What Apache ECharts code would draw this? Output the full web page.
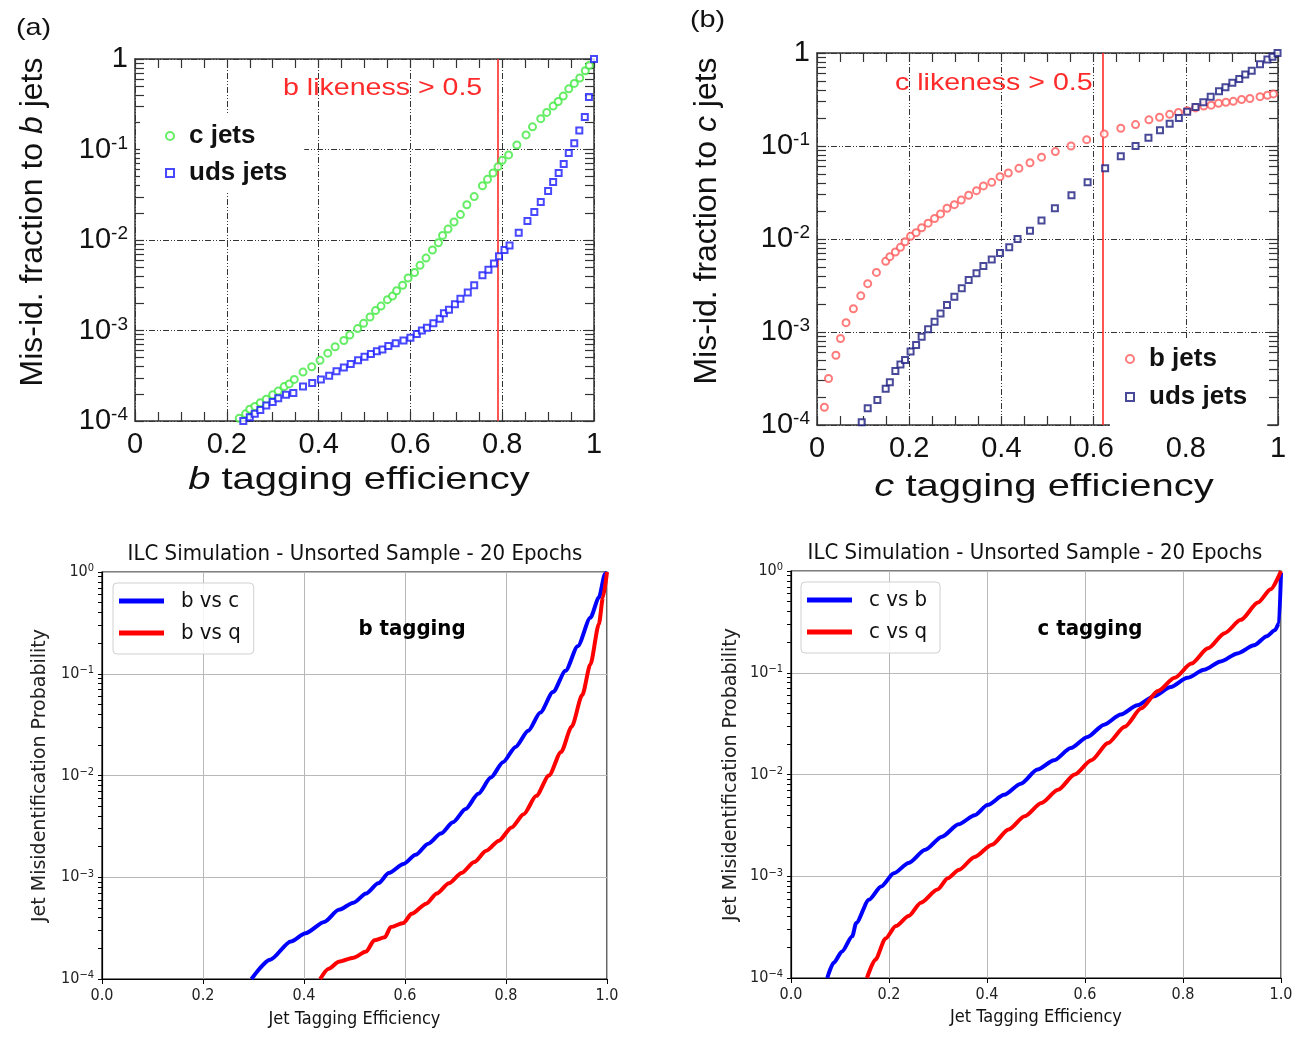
<!DOCTYPE html>
<html>
<head>
<meta charset="utf-8">
<script src="https://cdn.jsdelivr.net/npm/echarts@6/dist/echarts.min.js"></script>
<style>
  html, body { margin: 0; padding: 0; background: #fff; }
  #main { width: 1302px; height: 1050px; }
</style>
</head>
<body>
<div id="main"></div>
<script>
// ---------- data ----------
// (a) b tagging, mis-id of c jets / uds jets
var aEffC = [0.227,0.241,0.25,0.261,0.273,0.286,0.30,0.312,0.325,0.336,0.347,0.366,0.385,0.403,0.42,0.436,0.455,0.468,0.485,0.498,0.512,0.524,0.536,0.55,0.561,0.57,0.583,0.595,0.609,0.621,0.634,0.648,0.661,0.67,0.682,0.695,0.709,0.723,0.739,0.757,0.768,0.78,0.791,0.80,0.814,0.832,0.852,0.866,0.884,0.897,0.911,0.922,0.933,0.945,0.957,0.969,0.981,0.99];
var aMisC = [1.07e-4,1.20e-4,1.35e-4,1.45e-4,1.59e-4,1.74e-4,1.95e-4,2.14e-4,2.40e-4,2.57e-4,2.88e-4,3.47e-4,3.98e-4,4.68e-4,5.62e-4,6.61e-4,7.76e-4,8.91e-4,1.05e-3,1.20e-3,1.41e-3,1.66e-3,1.86e-3,2.19e-3,2.40e-3,2.75e-3,3.16e-3,3.80e-3,4.37e-3,5.25e-3,6.31e-3,7.76e-3,9.33e-3,1.12e-2,1.32e-2,1.58e-2,1.91e-2,2.45e-2,3.02e-2,3.98e-2,4.68e-2,5.50e-2,6.46e-2,7.59e-2,8.71e-2,0.112,0.145,0.178,0.219,0.257,0.302,0.339,0.389,0.468,0.537,0.617,0.741,0.851];
var aEffUds = [0.236,0.25,0.261,0.273,0.286,0.30,0.312,0.329,0.345,0.366,0.386,0.405,0.423,0.439,0.455,0.47,0.486,0.50,0.514,0.527,0.539,0.552,0.568,0.585,0.60,0.614,0.625,0.636,0.65,0.664,0.673,0.684,0.697,0.709,0.725,0.739,0.757,0.77,0.782,0.793,0.805,0.816,0.836,0.855,0.87,0.884,0.90,0.911,0.923,0.934,0.945,0.957,0.968,0.98,0.989,1.0];
var aMisUds = [1.00e-4,1.10e-4,1.20e-4,1.32e-4,1.48e-4,1.62e-4,1.78e-4,1.95e-4,2.04e-4,2.40e-4,2.63e-4,2.88e-4,3.16e-4,3.55e-4,3.89e-4,4.27e-4,4.68e-4,5.13e-4,5.50e-4,5.89e-4,6.17e-4,6.76e-4,7.24e-4,7.76e-4,8.32e-4,9.12e-4,1.00e-3,1.07e-3,1.20e-3,1.35e-3,1.55e-3,1.70e-3,1.95e-3,2.24e-3,2.63e-3,3.16e-3,4.07e-3,4.68e-3,5.50e-3,6.61e-3,7.76e-3,8.71e-3,1.20e-2,1.62e-2,2.04e-2,2.63e-2,3.47e-2,4.37e-2,5.50e-2,6.92e-2,9.12e-2,0.117,0.162,0.229,0.380,1.0];
var bCut = 0.793;

// (b) c tagging, mis-id of b jets / uds jets
var bEffB = [0.016,0.025,0.041,0.051,0.063,0.079,0.095,0.11,0.129,0.149,0.158,0.17,0.181,0.191,0.203,0.215,0.227,0.241,0.255,0.268,0.282,0.298,0.313,0.329,0.346,0.361,0.379,0.397,0.415,0.438,0.462,0.487,0.517,0.551,0.585,0.623,0.659,0.691,0.72,0.743,0.765,0.784,0.803,0.821,0.839,0.855,0.871,0.887,0.903,0.921,0.939,0.961,0.977,0.99];
var bMisB = [1.55e-4,3.16e-4,5.62e-4,8.51e-4,1.26e-3,1.78e-3,2.45e-3,3.31e-3,4.37e-3,5.75e-3,6.46e-3,7.24e-3,8.13e-3,9.33e-3,1.07e-2,1.17e-2,1.32e-2,1.48e-2,1.66e-2,1.86e-2,2.14e-2,2.34e-2,2.63e-2,2.95e-2,3.31e-2,3.72e-2,4.07e-2,4.68e-2,5.13e-2,5.75e-2,6.61e-2,7.59e-2,8.71e-2,0.100,0.117,0.135,0.155,0.170,0.191,0.204,0.219,0.229,0.240,0.257,0.269,0.275,0.288,0.295,0.302,0.316,0.324,0.339,0.351,0.363];
var bEffUds = [0.097,0.11,0.131,0.149,0.158,0.17,0.181,0.191,0.203,0.215,0.227,0.241,0.255,0.268,0.282,0.298,0.314,0.329,0.346,0.361,0.379,0.397,0.417,0.435,0.462,0.487,0.516,0.552,0.587,0.625,0.659,0.691,0.719,0.744,0.765,0.785,0.803,0.821,0.838,0.854,0.872,0.886,0.901,0.916,0.929,0.943,0.961,0.977,0.988,0.999];
var bMisUds = [1.07e-4,1.51e-4,1.86e-4,2.45e-4,2.88e-4,3.80e-4,4.47e-4,5.01e-4,6.17e-4,7.24e-4,8.91e-4,1.07e-3,1.29e-3,1.58e-3,1.95e-3,2.40e-3,2.95e-3,3.63e-3,4.27e-3,5.13e-3,6.03e-3,7.08e-3,8.13e-3,1.00e-2,1.23e-2,1.58e-2,2.14e-2,2.95e-2,4.07e-2,5.75e-2,7.76e-2,0.100,0.123,0.148,0.174,0.200,0.234,0.263,0.295,0.339,0.389,0.427,0.479,0.525,0.589,0.646,0.759,0.851,0.912,1.0];
var cCut = 0.623;

// (c) ILC simulation, b tagging
var cEffBC = [0.296,0.333,0.374,0.403,0.44,0.469,0.498,0.523,0.547,0.568,0.597,0.621,0.646,0.671,0.695,0.72,0.745,0.77,0.794,0.819,0.844,0.868,0.893,0.918,0.942,0.967,0.984,0.996,1.0];
var cMisBC = [1.00e-4,1.55e-4,2.34e-4,2.82e-4,3.63e-4,4.79e-4,5.62e-4,6.92e-4,8.71e-4,1.10e-3,1.35e-3,1.66e-3,2.14e-3,2.69e-3,3.47e-3,4.68e-3,6.61e-3,9.55e-3,1.35e-2,1.91e-2,2.75e-2,4.17e-2,6.61e-2,0.107,0.186,0.355,0.562,0.955,1.0];
var cEffBQ = [0.432,0.449,0.469,0.498,0.523,0.539,0.56,0.572,0.597,0.613,0.642,0.663,0.687,0.712,0.737,0.761,0.786,0.811,0.835,0.86,0.885,0.909,0.93,0.951,0.967,0.984,0.992,1.0];
var cMisBQ = [1.00e-4,1.26e-4,1.48e-4,1.62e-4,1.86e-4,2.40e-4,2.57e-4,3.24e-4,3.55e-4,4.37e-4,5.50e-4,6.92e-4,8.71e-4,1.10e-3,1.41e-3,1.82e-3,2.29e-3,3.09e-3,4.17e-3,6.31e-3,1.00e-2,1.70e-2,3.02e-2,6.17e-2,0.123,0.309,0.562,1.0];

// (d) ILC simulation, c tagging
var dEffCB = [0.074,0.087,0.104,0.125,0.133,0.159,0.184,0.21,0.24,0.274,0.308,0.342,0.375,0.401,0.435,0.469,0.503,0.537,0.571,0.605,0.639,0.673,0.707,0.741,0.775,0.809,0.843,0.877,0.911,0.945,0.971,0.988,0.996,1.0];
var dMisCB = [1.00e-4,1.41e-4,1.82e-4,2.57e-4,3.47e-4,5.89e-4,7.94e-4,1.07e-3,1.35e-3,1.82e-3,2.45e-3,3.24e-3,3.98e-3,5.01e-3,6.31e-3,8.13e-3,1.12e-2,1.38e-2,1.82e-2,2.34e-2,3.09e-2,3.89e-2,4.79e-2,5.89e-2,7.24e-2,8.91e-2,0.107,0.129,0.155,0.186,0.229,0.263,0.309,0.955];
var dEffCQ = [0.155,0.172,0.193,0.214,0.24,0.265,0.299,0.32,0.342,0.375,0.41,0.444,0.477,0.511,0.545,0.579,0.613,0.647,0.681,0.715,0.749,0.783,0.817,0.851,0.885,0.918,0.953,0.979,1.0];
var dMisCQ = [1.00e-4,1.51e-4,2.45e-4,3.24e-4,4.07e-4,5.50e-4,7.41e-4,9.55e-4,1.15e-3,1.55e-3,2.04e-3,2.88e-3,3.89e-3,5.25e-3,7.08e-3,1.00e-2,1.38e-2,2.04e-2,2.95e-2,4.47e-2,6.61e-2,8.91e-2,0.123,0.174,0.245,0.331,0.49,0.661,1.0];

// tick positions (every 0.05 on x, 1..9 per decade on y)
var xTicksFine = [0,0.05,0.1,0.15,0.2,0.25,0.3,0.35,0.4,0.45,0.5,0.55,0.6,0.65,0.7,0.75,0.8,0.85,0.9,0.95,1];
var yTicksLog = [1e-4,2e-4,3e-4,4e-4,5e-4,6e-4,7e-4,8e-4,9e-4,
                 1e-3,2e-3,3e-3,4e-3,5e-3,6e-3,7e-3,8e-3,9e-3,
                 1e-2,2e-2,3e-2,4e-2,5e-2,6e-2,7e-2,8e-2,9e-2,
                 0.1,0.2,0.3,0.4,0.5,0.6,0.7,0.8,0.9,1];

// ---------- helpers ----------
var TOPF = 'Liberation Sans, Arial, Helvetica, sans-serif';
var BOTF = 'DejaVu Sans Condensed, DejaVu Sans, sans-serif';
var NONE = 'rgba(0,0,0,0)';

function pairs(xs, ys) {
    var out = [];
    for (var i = 0; i < xs.length; i++) out.push([xs[i], ys[i]]);
    return out;
}

// grid line only on every n-th tick (the split lines follow the fine ticks)
function everyNth(color, n) {
    var c = [color];
    for (var i = 1; i < n; i++) c.push(NONE);
    return c;
}

function rootXAxis(gi, pos, withLabels) {
    return {
        gridIndex: gi, type: 'value', min: 0, max: 1, interval: 0.2, position: pos,
        axisLine: { show: true, onZero: false, lineStyle: { color: '#333', width: 1.5 } },
        axisTick: { show: true, inside: true, length: 9, customValues: xTicksFine, lineStyle: { color: '#333', width: 1.2 } },
        splitLine: { show: withLabels, lineStyle: { color: everyNth('#333', 4), width: 1, type: [6, 2, 1, 2, 1, 2] } },
        axisLabel: {
            show: withLabels, margin: 9, fontSize: 29, fontFamily: TOPF, color: '#111',
            formatter: function (v) { return (v === 0 || v === 1) ? String(v) : v.toFixed(1); }
        }
    };
}

function rootYAxis(gi, pos, withLabels) {
    return {
        gridIndex: gi, type: 'log', logBase: 10, min: 1e-4, max: 1, position: pos,
        axisLine: { show: true, onZero: false, lineStyle: { color: '#333', width: 1.5 } },
        axisTick: { show: true, inside: true, length: 9, customValues: yTicksLog, lineStyle: { color: '#333', width: 1.2 } },
        splitLine: { show: withLabels, lineStyle: { color: everyNth('#333', 9), width: 1, type: [6, 2, 1, 2, 1, 2] } },
        axisLabel: {
            show: withLabels, margin: 7,
            formatter: function (v) {
                var e = Math.round(Math.log10(v));
                return e === 0 ? '{b|1}' : '{b|10}{s|' + e + '}';
            },
            rich: {
                b: { fontSize: 29, fontFamily: TOPF, color: '#111' },
                s: { fontSize: 19, fontFamily: TOPF, color: '#111', verticalAlign: 'top', padding: [0, 0, 12, 0] }
            }
        }
    };
}

function mplXAxis(gi, gap) {
    return {
        gridIndex: gi, type: 'value', min: 0, max: 1, interval: 0.2,
        name: 'Jet Tagging Efficiency', nameLocation: 'middle', nameGap: gap,
        nameTextStyle: { fontSize: 18, fontFamily: BOTF, color: '#111' },
        axisLine: { show: true, onZero: false, lineStyle: { color: '#000', width: 1.2 } },
        axisTick: { show: true, inside: false, length: 5, lineStyle: { color: '#000', width: 1 } },
        splitLine: { show: true, lineStyle: { color: '#b8b8b8', width: 1 } },
        axisLabel: { margin: 9, fontSize: 16, fontFamily: BOTF, color: '#222', formatter: function (v) { return v.toFixed(1); } }
    };
}

function mplYAxis(gi, gap) {
    return {
        gridIndex: gi, type: 'log', logBase: 10, min: 1e-4, max: 1,
        name: 'Jet Misidentification Probability', nameLocation: 'middle', nameGap: gap, nameRotate: 90,
        nameTextStyle: { fontSize: 19, fontFamily: 'DejaVu Sans, sans-serif', color: '#222' },
        axisLine: { show: true, onZero: false, lineStyle: { color: '#000', width: 1.2 } },
        axisTick: { show: true, inside: false, length: 4, customValues: yTicksLog, lineStyle: { color: '#000', width: 1 } },
        splitLine: { show: true, lineStyle: { color: everyNth('#b8b8b8', 9), width: 1 } },
        axisLabel: {
            margin: 8,
            formatter: function (v) {
                var e = Math.round(Math.log10(v));
                return '{b|10}{s|' + (e < 0 ? '\u2212' + (-e) : e) + '}';
            },
            rich: {
                b: { fontSize: 16, fontFamily: BOTF, color: '#222' },
                s: { fontSize: 11, fontFamily: BOTF, color: '#222', verticalAlign: 'top', padding: [0, 0, 7, 0] }
            }
        }
    };
}

function scatter(name, xs, ys, xi, yi, symbol, size, color) {
    return {
        name: name, type: 'scatter', xAxisIndex: xi, yAxisIndex: yi,
        symbol: symbol, symbolSize: size,
        itemStyle: { color: color, borderWidth: 1.3 },
        data: pairs(xs, ys), z: 5
    };
}

function curve(name, xs, ys, xi, yi, color) {
    return {
        name: name, type: 'line', xAxisIndex: xi, yAxisIndex: yi,
        symbol: 'none', smooth: 0.25, smoothMonotone: 'x',
        lineStyle: { color: color, width: 4 }, itemStyle: { color: color },
        data: pairs(xs, ys)
    };
}

function cutLine(x) {
    return {
        silent: true, symbol: ['none', 'none'], label: { show: false },
        lineStyle: { color: '#ff2a2a', width: 1.6, type: 'solid' },
        data: [{ xAxis: x }]
    };
}

var myChart = echarts.init(document.getElementById('main'), null, { renderer: 'canvas' });

var sA = scatter('c jets', aEffC, aMisC, 0, 0, 'emptyCircle', 7, '#40e840');
sA.markLine = cutLine(bCut);
var sB = scatter('b jets', bEffB, bMisB, 2, 2, 'emptyCircle', 7, '#ff5a5a');
sB.markLine = cutLine(cCut);

var option = {
    backgroundColor: '#fff',
    animation: false,
    grid: [
        { left: 135, top: 59, width: 459, height: 362, outerBoundsMode: 'none' },
        { left: 817, top: 53, width: 461, height: 372, outerBoundsMode: 'none' },
        { left: 102, top: 572, width: 505, height: 407, show: true, borderColor: '#000', borderWidth: 1.2, outerBoundsMode: 'none' },
        { left: 791, top: 571, width: 490, height: 407, show: true, borderColor: '#000', borderWidth: 1.2, outerBoundsMode: 'none' }
    ],
    xAxis: [
        rootXAxis(0, 'bottom', true), rootXAxis(0, 'top', false),
        rootXAxis(1, 'bottom', true), rootXAxis(1, 'top', false),
        mplXAxis(2, 31), mplXAxis(3, 30)
    ],
    yAxis: [
        rootYAxis(0, 'left', true), rootYAxis(0, 'right', false),
        rootYAxis(1, 'left', true), rootYAxis(1, 'right', false),
        mplYAxis(2, 52), mplYAxis(3, 50)
    ],
    legend: [
        {
            data: ['c jets', 'uds jets (a)'], orient: 'vertical', left: 140, top: 115,
            padding: [8, 17, 6, 25], itemGap: 11, itemWidth: 8, itemHeight: 8,
            backgroundColor: '#fff', selectedMode: false,
            formatter: function (n) { return n.replace(' (a)', ''); },
            textStyle: { fontSize: 26, fontWeight: 'bold', fontFamily: TOPF, color: '#111', padding: [0, 0, 0, 10] }
        },
        {
            data: ['b jets', 'uds jets (b)'], orient: 'vertical', left: 1110, top: 338,
            padding: [8, 20, 16, 15], itemGap: 12, itemWidth: 8, itemHeight: 8,
            backgroundColor: '#fff', selectedMode: false,
            formatter: function (n) { return n.replace(' (b)', ''); },
            textStyle: { fontSize: 26, fontWeight: 'bold', fontFamily: TOPF, color: '#111', padding: [0, 0, 0, 10] }
        },
        {
            data: ['b vs c', 'b vs q'], orient: 'vertical', left: 113, top: 583,
            padding: [7, 13, 10, 6], itemGap: 10, itemWidth: 45, itemHeight: 5, icon: 'rect',
            backgroundColor: 'rgba(255,255,255,0.85)', borderColor: '#d0d0d0', borderWidth: 1, borderRadius: 4,
            selectedMode: false,
            textStyle: { fontSize: 22, fontFamily: BOTF, color: '#111', padding: [0, 0, 0, 12] }
        },
        {
            data: ['c vs b', 'c vs q'], orient: 'vertical', left: 801, top: 582,
            padding: [7, 13, 10, 6], itemGap: 10, itemWidth: 45, itemHeight: 5, icon: 'rect',
            backgroundColor: 'rgba(255,255,255,0.85)', borderColor: '#d0d0d0', borderWidth: 1, borderRadius: 4,
            selectedMode: false,
            textStyle: { fontSize: 22, fontFamily: BOTF, color: '#111', padding: [0, 0, 0, 12] }
        }
    ],
    series: [
        sA,
        scatter('uds jets (a)', aEffUds, aMisUds, 0, 0, 'emptyRect', 6, '#1a1aff'),
        sB,
        scatter('uds jets (b)', bEffUds, bMisUds, 2, 2, 'emptyRect', 6, '#1c1c80'),
        curve('b vs c', cEffBC, cMisBC, 4, 4, '#0000ff'),
        curve('b vs q', cEffBQ, cMisBQ, 4, 4, '#ff0000'),
        curve('c vs b', dEffCB, dMisCB, 5, 5, '#0000ff'),
        curve('c vs q', dEffCQ, dMisCQ, 5, 5, '#ff0000')
    ],
    graphic: [
        { type: 'text', x: 16, y: 28, scaleX: 1.2, style: { text: '(a)', fontSize: 24, fontFamily: TOPF, fill: '#111', verticalAlign: 'middle' } },
        { type: 'text', x: 690, y: 20, scaleX: 1.2, style: { text: '(b)', fontSize: 24, fontFamily: TOPF, fill: '#111', verticalAlign: 'middle' } },
        { type: 'text', x: 33, y: 222, rotation: Math.PI / 2, style: {
            text: '{n|Mis-id. fraction to }{i|b}{n| jets}', align: 'center', verticalAlign: 'middle',
            rich: { n: { fontSize: 32, fontFamily: TOPF, fill: '#111' }, i: { fontSize: 32, fontFamily: TOPF, fontStyle: 'italic', fill: '#111' } } } },
        { type: 'text', x: 707, y: 221, rotation: Math.PI / 2, style: {
            text: '{n|Mis-id. fraction to }{i|c}{n| jets}', align: 'center', verticalAlign: 'middle',
            rich: { n: { fontSize: 32, fontFamily: TOPF, fill: '#111' }, i: { fontSize: 32, fontFamily: TOPF, fontStyle: 'italic', fill: '#111' } } } },
        { type: 'text', x: 359, y: 480, scaleX: 1.25, style: {
            text: '{i|b}{n| tagging efficiency}', align: 'center', verticalAlign: 'middle',
            rich: { n: { fontSize: 32, fontFamily: TOPF, fill: '#111' }, i: { fontSize: 32, fontFamily: TOPF, fontStyle: 'italic', fill: '#111' } } } },
        { type: 'text', x: 1044, y: 487, scaleX: 1.25, style: {
            text: '{i|c}{n| tagging efficiency}', align: 'center', verticalAlign: 'middle',
            rich: { n: { fontSize: 32, fontFamily: TOPF, fill: '#111' }, i: { fontSize: 32, fontFamily: TOPF, fontStyle: 'italic', fill: '#111' } } } },
        { type: 'text', x: 283, y: 88, scaleX: 1.19, z: 10, style: { text: 'b likeness > 0.5', fontSize: 24, fontFamily: TOPF, fill: '#ff2a2a', verticalAlign: 'middle' } },
        { type: 'text', x: 895, y: 83, scaleX: 1.19, z: 10, style: { text: 'c likeness > 0.5', fontSize: 24, fontFamily: TOPF, fill: '#ff2a2a', verticalAlign: 'middle' } },
        { type: 'text', x: 355, y: 554, style: { text: 'ILC Simulation - Unsorted Sample - 20 Epochs', fontSize: 22, fontFamily: BOTF, fill: '#111', align: 'center', verticalAlign: 'middle' } },
        { type: 'text', x: 1035, y: 553, style: { text: 'ILC Simulation - Unsorted Sample - 20 Epochs', fontSize: 22, fontFamily: BOTF, fill: '#111', align: 'center', verticalAlign: 'middle' } },
        { type: 'text', x: 412, y: 629, z: 10, style: { text: 'b tagging', fontSize: 22, fontWeight: 'bold', fontFamily: BOTF, fill: '#000', align: 'center', verticalAlign: 'middle' } },
        { type: 'text', x: 1090, y: 629, z: 10, style: { text: 'c tagging', fontSize: 22, fontWeight: 'bold', fontFamily: BOTF, fill: '#000', align: 'center', verticalAlign: 'middle' } }
    ]
};

myChart.setOption(option);
</script>
</body>
</html>
